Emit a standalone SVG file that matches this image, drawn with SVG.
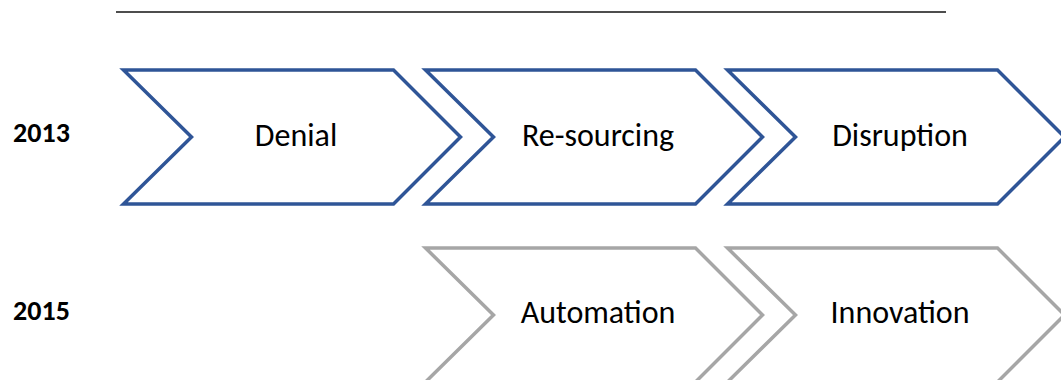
<svg xmlns="http://www.w3.org/2000/svg" width="1061" height="380" viewBox="0 0 1061 380">
  <style>
    .chev { fill: #ffffff; stroke-width: 3.5; stroke-linejoin: miter; }
    .y2013 { stroke: #2F5597; }
    .y2015 { stroke: #A6A6A6; }
    .label { font-family: Carlito, Lato, "Liberation Sans", sans-serif; font-size: 32px; fill: #000000; text-anchor: middle; }
    .year { font-family: Carlito, Lato, "Liberation Sans", sans-serif; font-size: 28px; font-weight: bold; fill: #000000; text-anchor: middle; }
  </style>
  <defs>
    <!-- one chevron step, origin at its top-left corner -->
    <path id="chevron" d="M0,0 H270 L337,67 L270,134 H0 L68,67 Z"/>
  </defs>
  <rect width="1061" height="380" fill="#ffffff"/>

  <!-- header rule -->
  <line x1="116" y1="12" x2="946" y2="12" stroke="#4d4d4d" stroke-width="2"/>

  <!-- row labels -->
  <g id="year-2013"><text class="year" x="41.5" y="142">2013</text></g>
  <g id="year-2015"><text class="year" x="41.5" y="320">2015</text></g>

  <!-- 2013 stages -->
  <g id="denial">
    <use href="#chevron" class="chev y2013" x="123.5" y="70"/>
    <text class="label" x="296" y="146">Denial</text>
  </g>
  <g id="re-sourcing">
    <use href="#chevron" class="chev y2013" x="425.5" y="70"/>
    <text class="label" x="598" y="146">Re-sourcing</text>
  </g>
  <g id="disruption">
    <use href="#chevron" class="chev y2013" x="727.5" y="70"/>
    <text class="label" x="900" y="146">Disruption</text>
  </g>

  <!-- 2015 stages -->
  <g id="automation">
    <use href="#chevron" class="chev y2015" x="425.5" y="248"/>
    <text class="label" x="598" y="323">Automation</text>
  </g>
  <g id="innovation">
    <use href="#chevron" class="chev y2015" x="727.5" y="248"/>
    <text class="label" x="900" y="323">Innovation</text>
  </g>

  <g id="connectors"/>
</svg>
